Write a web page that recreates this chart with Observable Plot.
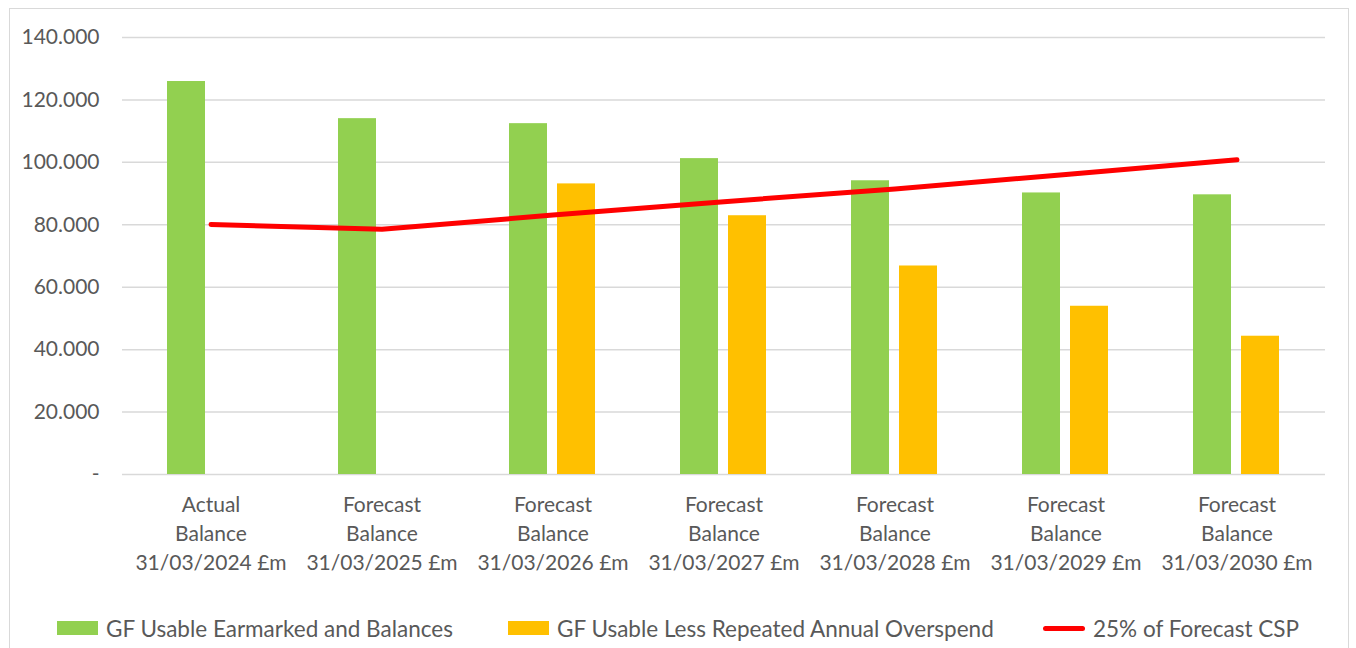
<!DOCTYPE html>
<html>
<head>
<meta charset="utf-8">
<script src="https://cdn.jsdelivr.net/npm/d3@7"></script>
<script src="https://cdn.jsdelivr.net/npm/@observablehq/plot@0.6"></script>
<style>
  body { margin: 0; background: #fff; font-family: Lato, "Open Sans", sans-serif; }
  #frame { position: absolute; left: 9px; top: 8px; width: 1340px; height: 660px; border: 1px solid #d9d9d9; box-sizing: border-box; }
  #chart { position: absolute; left: 0; top: 0; }
  #legend { position: absolute; top: 614px; left: 0; width: 1356px; height: 28px; font-size: 22.5px; color: #595959; }
  .item { position: absolute; display: flex; align-items: center; height: 28px; white-space: nowrap; }
  .sw { display: inline-block; width: 41px; height: 14px; margin-right: 8px; }
  .ln { display: inline-block; width: 42px; height: 5px; border-radius: 3px; background: #ff0000; margin-right: 8px; }
</style>
</head>
<body>
<div id="frame"></div>
<div id="chart"></div>
<div id="legend"></div>
<script>
const categories = [
  "Actual\nBalance\n31/03/2024 £m",
  "Forecast\nBalance\n31/03/2025 £m",
  "Forecast\nBalance\n31/03/2026 £m",
  "Forecast\nBalance\n31/03/2027 £m",
  "Forecast\nBalance\n31/03/2028 £m",
  "Forecast\nBalance\n31/03/2029 £m",
  "Forecast\nBalance\n31/03/2030 £m"
];
const usableEarmarked = [125.9, 114.0, 112.4, 101.2, 94.1, 90.2, 89.6];
const usableLessOverspend = [null, null, 93.1, 82.9, 66.8, 53.9, 44.3];
const forecastCSP25 = [80.1, 78.6, 83.1, 87.4, 91.5, 96.1, 100.8];
const yTicks = [0, 20, 40, 60, 80, 100, 120, 140];
const seriesNames = ["GF Usable Earmarked and Balances", "GF Usable Less Repeated Annual Overspend", "25% of Forecast CSP"];

const green = "#92d050", amber = "#ffc000", red = "#ff0000";

const greenData = categories.map((c, i) => ({cat: c, v: usableEarmarked[i]}));
const amberData = categories.map((c, i) => ({cat: c, v: usableLessOverspend[i]})).filter(d => d.v != null);
const lineData = categories.map((c, i) => ({cat: c, v: forecastCSP25[i]}));

const fmt = d => d === 0 ? "-" : d3.format(".3f")(d);

const chart = Plot.plot({
  width: 1356,
  height: 600,
  marginLeft: 122,
  marginRight: 31,
  marginTop: 37,
  marginBottom: 126,
  style: {fontFamily: "Lato, 'Open Sans', sans-serif", color: "#595959", background: "transparent"},
  x: {domain: categories, padding: 0, axis: null},
  y: {domain: [0, 140], axis: null},
  marks: [
    Plot.ruleY(yTicks, {stroke: "#d9d9d9", strokeWidth: 1.5}),
    Plot.barY(greenData, {x: "cat", y: "v", fill: green, insetLeft: 42, insetRight: 91}),
    Plot.barY(amberData, {x: "cat", y: "v", fill: amber, insetLeft: 90, insetRight: 43}),
    Plot.line(lineData, {x: "cat", y: "v", stroke: red, strokeWidth: 5, strokeLinecap: "round", strokeLinejoin: "round"}),
    Plot.text(yTicks, {y: d => d, text: fmt, frameAnchor: "left", textAnchor: "end", dx: -23, fontSize: 21, fill: "#595959"}),
    Plot.axisX({tickSize: 0, tickPadding: 17, fontSize: 21, lineHeight: 1.38, fill: "#595959", label: null})
  ]
});
document.getElementById("chart").appendChild(chart);

const legend = document.getElementById("legend");
const items = [
  {left: 57, kind: "sw", color: green, text: seriesNames[0]},
  {left: 508, kind: "sw", color: amber, text: seriesNames[1]},
  {left: 1043, kind: "ln", color: red, text: seriesNames[2]}
];
for (const it of items) {
  const d = document.createElement("div");
  d.className = "item";
  d.style.left = it.left + "px";
  const s = document.createElement("span");
  s.className = it.kind;
  if (it.kind === "sw") s.style.background = it.color;
  d.appendChild(s);
  d.appendChild(document.createTextNode(it.text));
  legend.appendChild(d);
}
</script>
</body>
</html>
